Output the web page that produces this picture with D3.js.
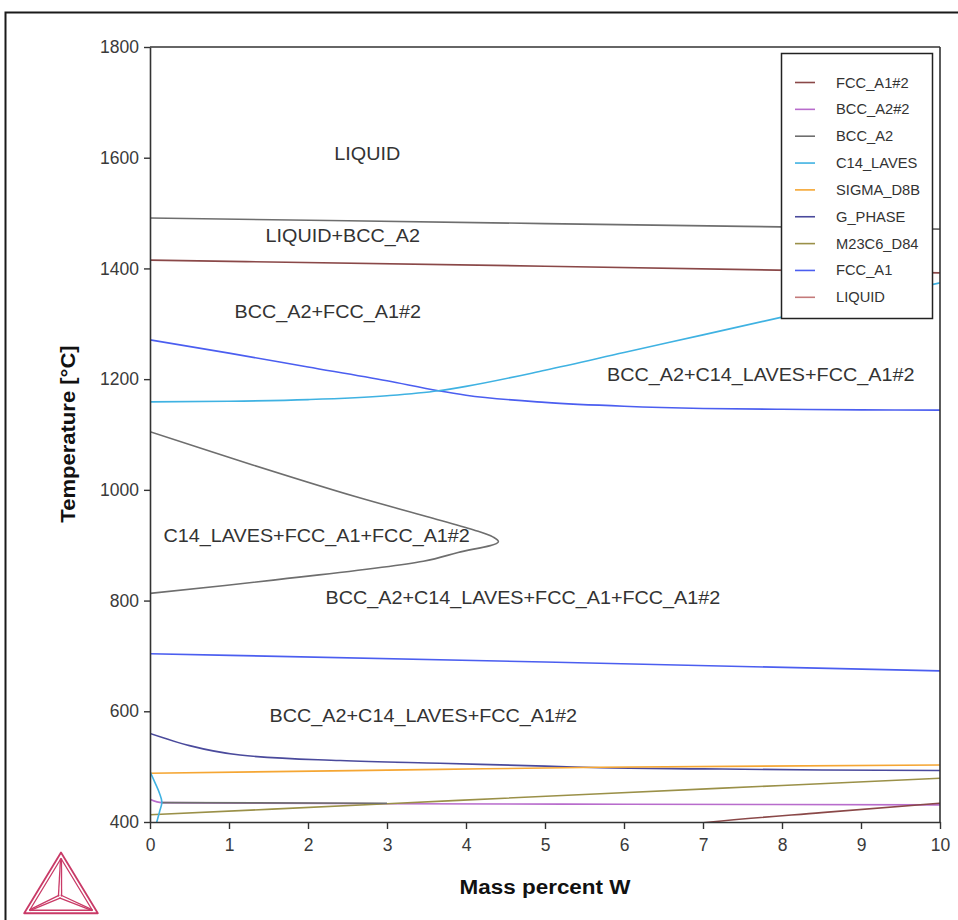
<!DOCTYPE html>
<html>
<head>
<meta charset="utf-8">
<script src="https://cdn.jsdelivr.net/npm/d3@7"></script>
<style>
  html, body { margin: 0; padding: 0; background: #fff; }
  svg { display: block; font-family: "Liberation Sans", Arial, sans-serif; }
</style>
</head>
<body>
<svg id="chart" width="958" height="920"></svg>
<script>
// Axis ticks
const xTicks = [0, 1, 2, 3, 4, 5, 6, 7, 8, 9, 10];
const yTicks = [400, 600, 800, 1000, 1200, 1400, 1600, 1800];

// Legend entries (phase names)
const phaseNames = ["FCC_A1#2", "BCC_A2#2", "BCC_A2", "C14_LAVES", "SIGMA_D8B",
                    "G_PHASE", "M23C6_D84", "FCC_A1", "LIQUID"];

// Phase boundaries: [mass percent W, temperature °C]
const bccLiquidus      = [[0, 1491], [5, 1481], [10, 1471]];
const fcc2Solvus       = [[0, 1415], [5, 1404], [10, 1392]];
const fccUpper         = [[0, 1271], [1, 1247], [2, 1222], [3, 1197], [3.65, 1179], [4, 1171],
                          [5, 1158], [6, 1151], [7, 1147], [8, 1145.5], [9, 1144.5], [10, 1144]];
const lavesUpper       = [[0, 1159], [1, 1160], [2, 1163], [3, 1170], [3.65, 1179], [4, 1187],
                          [5, 1216], [6, 1248], [7, 1280], [8, 1312], [9, 1343], [10, 1374]];
const bccNose          = [[0, 1105], [1.3, 1045], [2.62, 987], [3.5, 952], [4.09, 928], [4.34, 915],
                          [4.41, 906], [3.9, 887], [3.46, 871], [1.56, 837], [0, 813]];
const fccLower         = [[0, 704], [5, 689], [10, 673]];
const gPhase           = [[0, 560], [0.5, 538], [1.14, 521], [2.41, 511], [3.67, 506],
                          [5, 501], [5.7, 498], [7, 496], [8.5, 494], [10, 493]];
const sigma            = [[0, 488], [3.67, 495], [5.7, 499], [10, 503]];
const bcc2Line         = [[0, 441], [0.15, 435], [3, 433], [6, 432], [10, 431]];
const bccLow           = [[0.15, 435], [3, 434]];
const m23c6            = [[0, 413], [3, 433], [5.7, 451], [8, 466], [10, 479]];
const fcc2Low          = [[6.9, 397], [7.1, 400], [8.5, 417], [10, 434]];
const lavesLow         = [[0, 491], [0.06, 472], [0.12, 452], [0.15, 436], [0.12, 418], [0.08, 397]];

// Which phase each boundary belongs to
const boundaries = [
  { phase: "BCC_A2",    pts: bccLiquidus },
  { phase: "FCC_A1#2",  pts: fcc2Solvus },
  { phase: "FCC_A1",    pts: fccUpper },
  { phase: "C14_LAVES", pts: lavesUpper },
  { phase: "BCC_A2",    pts: bccNose },
  { phase: "FCC_A1",    pts: fccLower },
  { phase: "BCC_A2#2",  pts: bcc2Line },
  { phase: "M23C6_D84", pts: m23c6 },
  { phase: "BCC_A2",    pts: bccLow },
  { phase: "G_PHASE",   pts: gPhase },
  { phase: "SIGMA_D8B", pts: sigma },
  { phase: "FCC_A1#2",  pts: fcc2Low },
  { phase: "C14_LAVES", pts: lavesLow }
];

// Phase-field labels: [text, mass percent W, temperature °C]
const fieldLabels = [
  ["LIQUID", 2.75, 1608],
  ["LIQUID+BCC_A2", 2.44, 1459],
  ["BCC_A2+FCC_A1#2", 2.25, 1323],
  ["BCC_A2+C14_LAVES+FCC_A1#2", 7.73, 1209],
  ["C14_LAVES+FCC_A1+FCC_A1#2", 2.11, 918],
  ["BCC_A2+C14_LAVES+FCC_A1+FCC_A1#2", 4.72, 806],
  ["BCC_A2+C14_LAVES+FCC_A1#2", 3.46, 593]
];

// Line colours per phase
const phaseColor = {
  "FCC_A1#2": "#8a4848",
  "BCC_A2#2": "#b86ccc",
  "BCC_A2": "#6e6e6e",
  "C14_LAVES": "#3fb2e2",
  "SIGMA_D8B": "#f5a633",
  "G_PHASE": "#4a4a9c",
  "M23C6_D84": "#9a9048",
  "FCC_A1": "#4b5ef0",
  "LIQUID": "#c47a7a"
};

const svg = d3.select("#chart");
const plot = { left: 150, right: 940, top: 47, bottom: 822 };
const x = d3.scaleLinear().domain([0, 10]).range([plot.left, plot.right]);
const y = d3.scaleLinear().domain([400, 1800]).range([plot.bottom, plot.top]);
const sx = 1.07; // horizontal text stretch

// Outer frame
svg.append("rect")
  .attr("x", 5.5).attr("y", 12.5).attr("width", 1000).attr("height", 1000)
  .attr("fill", "none").attr("stroke", "#1a1a1a").attr("stroke-width", 2);

// Clip for curves
svg.append("defs").append("clipPath").attr("id", "plotClip")
  .append("rect").attr("x", plot.left).attr("y", plot.top)
  .attr("width", plot.right - plot.left).attr("height", plot.bottom - plot.top);

const line = d3.line().x(d => x(d[0])).y(d => y(d[1])).curve(d3.curveMonotoneX);
const lineFree = d3.line().x(d => x(d[0])).y(d => y(d[1])).curve(d3.curveCatmullRom.alpha(0.5));

const curves = svg.append("g").attr("clip-path", "url(#plotClip)");
boundaries.forEach(b => {
  const monotone = b.pts.every((p, i) => i === 0 || p[0] > b.pts[i - 1][0]);
  curves.append("path")
    .attr("d", (monotone ? line : lineFree)(b.pts))
    .attr("fill", "none")
    .attr("stroke", phaseColor[b.phase])
    .attr("stroke-width", 1.6)
    .attr("stroke-linejoin", "round");
});

// Axes
const tickFont = 17.5;
const yAxis = svg.append("g").attr("transform", `translate(${plot.left},0)`)
  .call(d3.axisLeft(y).tickValues(yTicks).tickFormat(d3.format("d"))
    .tickSize(6).tickSizeOuter(0).tickPadding(5));
const xAxis = svg.append("g").attr("transform", `translate(0,${plot.bottom})`)
  .call(d3.axisBottom(x).tickValues(xTicks).tickFormat(d3.format("d"))
    .tickSize(7).tickSizeOuter(0).tickPadding(10));
[xAxis, yAxis].forEach(a => {
  a.select(".domain").attr("stroke", "#333").attr("stroke-width", 1.6);
  a.selectAll(".tick line").attr("stroke", "#333").attr("stroke-width", 1.4);
  a.selectAll(".tick text").attr("fill", "#3a3a3a").attr("font-size", tickFont)
    .attr("font-family", "Liberation Sans, Arial, sans-serif");
});
// top and right frame lines
svg.append("line").attr("x1", plot.left).attr("x2", plot.right).attr("y1", plot.top).attr("y2", plot.top)
  .attr("stroke", "#333").attr("stroke-width", 1.6);
svg.append("line").attr("x1", plot.right).attr("x2", plot.right).attr("y1", plot.top).attr("y2", plot.bottom)
  .attr("stroke", "#333").attr("stroke-width", 1.6);

// Axis titles
svg.append("text")
  .attr("transform", `translate(545,894) scale(${sx},1)`)
  .attr("text-anchor", "middle").attr("font-size", 21).attr("font-weight", "bold")
  .attr("fill", "#111").text("Mass percent W");
svg.append("text")
  .attr("transform", `translate(75,434) rotate(-90) scale(1.05,1)`)
  .attr("text-anchor", "middle").attr("font-size", 21).attr("font-weight", "bold")
  .attr("fill", "#111").text("Temperature [°C]");

// Phase-field labels
svg.append("g").selectAll("text").data(fieldLabels).join("text")
  .attr("transform", d => `translate(${x(d[1])},${y(d[2]) + 6.5}) scale(${sx},1)`)
  .attr("text-anchor", "middle").attr("font-size", 18.5).attr("fill", "#333")
  .text(d => d[0]);

// Legend
const lg = svg.append("g");
lg.append("rect").attr("x", 781.5).attr("y", 53.5).attr("width", 151).attr("height", 265)
  .attr("fill", "#fff").attr("stroke", "#222").attr("stroke-width", 1.5);
const legendRows = lg.selectAll("g.row").data(phaseNames).join("g")
  .attr("class", "row")
  .attr("transform", (d, i) => `translate(0,${82.5 + i * 26.85})`);
legendRows.append("line").attr("x1", 795).attr("x2", 815).attr("y1", 0).attr("y2", 0)
  .attr("stroke", d => phaseColor[d]).attr("stroke-width", 1.6);
legendRows.append("text")
  .attr("transform", `translate(836,5) scale(1.05,1)`)
  .attr("font-size", 14).attr("fill", "#333").text(d => d);

// Logo (tetrahedron mark)
const logo = svg.append("g").attr("transform", "translate(61,893)")
  .attr("fill", "none").attr("stroke", "#c93a67").attr("stroke-width", 1.3)
  .attr("stroke-linejoin", "round");
const tri = r => [[0, -r], [r * Math.sin(Math.PI / 3) * 1.05, r / 2], [-r * Math.sin(Math.PI / 3) * 1.05, r / 2]];
const outer = tri(40.5), inner = tri(34.5);
logo.append("path").attr("d", "M" + outer.join("L") + "Z").attr("stroke-width", 1.8);
logo.append("path").attr("d", "M" + inner.join("L") + "Z");
const c = [-1, 3.5];
inner.forEach(v => {
  const dx = v[0] - c[0], dy = v[1] - c[1], len = Math.hypot(dx, dy);
  const nx = -dy / len * 1.6, ny = dx / len * 1.6;
  [[nx, ny], [-nx, -ny]].forEach(o => {
    logo.append("line").attr("x1", c[0] + o[0]).attr("y1", c[1] + o[1])
      .attr("x2", v[0] + o[0] * 0.3).attr("y2", v[1] + o[1] * 0.3);
  });
});
</script>
</body>
</html>
